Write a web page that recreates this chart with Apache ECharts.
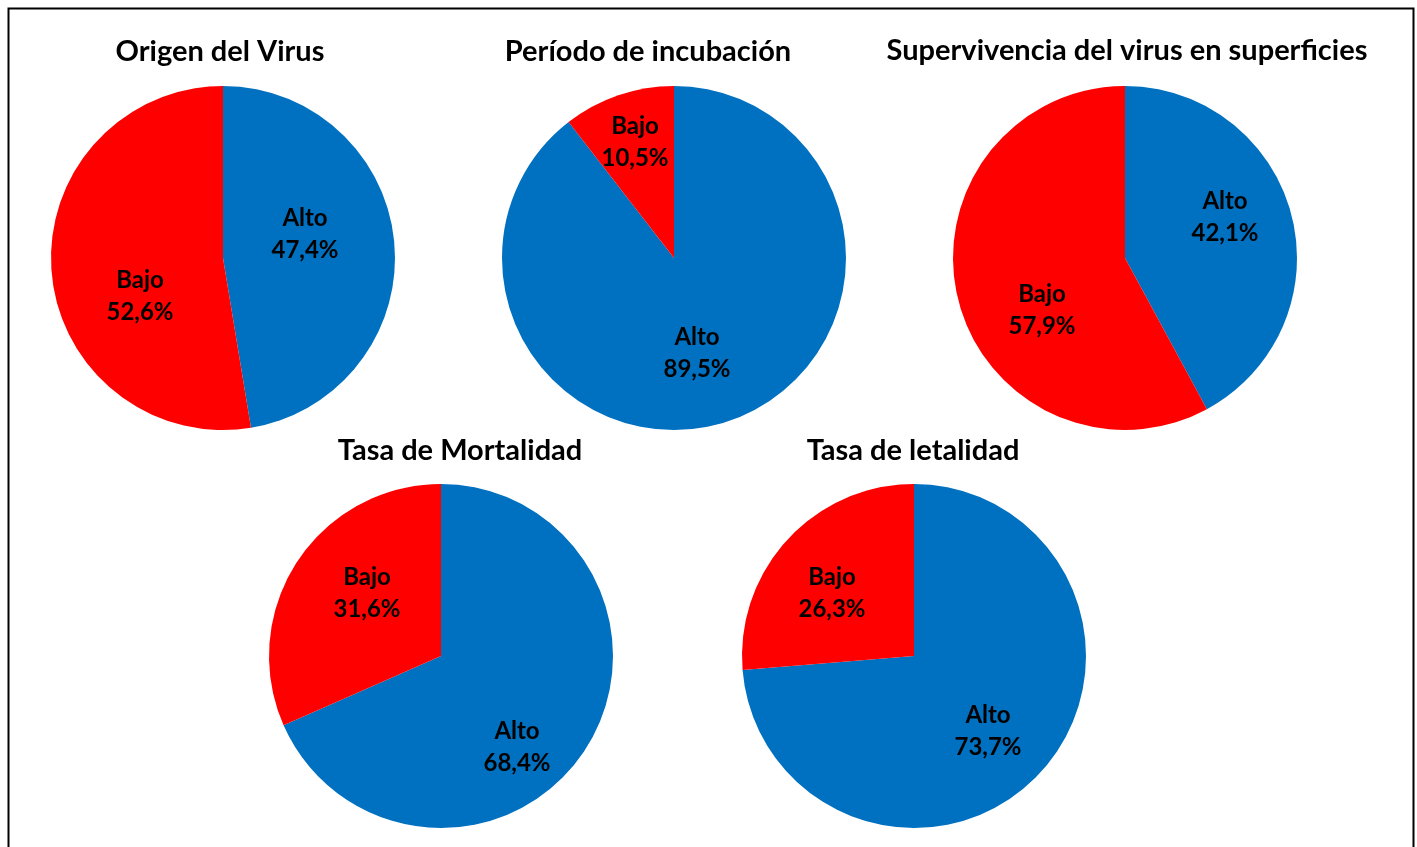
<!DOCTYPE html>
<html>
<head>
<meta charset="utf-8">
<script src="https://cdn.jsdelivr.net/npm/echarts@6/dist/echarts.min.js"></script>
<style>
  html, body { margin: 0; padding: 0; background: #fff; }
  #chart { width: 1417px; height: 847px; }
</style>
</head>
<body>
<div id="chart"></div>
<script>
// datos de cada gráfico circular (porcentajes)
const titles = [
  "Origen del Virus",
  "Período de incubación",
  "Supervivencia del virus en superficies",
  "Tasa de Mortalidad",
  "Tasa de letalidad"
];
const categories = ["Alto", "Bajo"];
const altoValues = [47.4, 89.5, 42.1, 68.4, 73.7];
const bajoValues = [52.6, 10.5, 57.9, 31.6, 26.3];
const colors = ["#0070C0", "#FF0000"];

// layout
const centers = [[223, 258], [674, 258], [1125, 258], [441, 656], [914, 656]];
const titlePos = [[215, 47], [643, 47], [1122, 46], [455, 446], [908, 446]];
// desplazamiento de las etiquetas respecto al centro (como en Excel) [Alto, Bajo]
const labelOffsets = [
  [[82, -24], [-83, 38]],
  [[23, 95], [-39, -116]],
  [[100, -41], [-83, 52]],
  [[76, 91], [-74, -63]],
  [[74, 75], [-82, -63]]
];
const R = 172;
const FONT = "Lato, 'Open Sans', sans-serif";

const chart = echarts.init(document.getElementById("chart"));

const fmt = (v) => v.toFixed(1).replace(".", ",") + "%";

const series = titles.map((t, i) => {
  const vals = [altoValues[i], bajoValues[i]];
  return {
    type: "pie",
    center: centers[i],
    radius: [0, R],
    startAngle: 90,
    clockwise: true,
    silent: true,
    animation: false,
    itemStyle: { borderWidth: 0 },
    data: categories.map((c, j) => ({
      name: c,
      value: vals[j],
      itemStyle: { color: colors[j] }
    })),
    label: {
      show: true,
      position: "inside",
      formatter: (p) => p.name + "\n" + fmt(p.value),
      color: "#000",
      fontFamily: FONT,
      fontWeight: "bold",
      fontSize: 24,
      lineHeight: 32,
      align: "center"
    },
    labelLayout: (p) => {
      const off = labelOffsets[i][p.dataIndex];
      return {
        x: centers[i][0] + off[0],
        y: centers[i][1] + off[1],
        align: "center",
        verticalAlign: "middle"
      };
    },
    labelLine: { show: false }
  };
});

const option = {
  backgroundColor: "#fff",
  animation: false,
  title: titles.map((t, i) => ({
    text: t,
    left: titlePos[i][0],
    top: titlePos[i][1],
    textAlign: "center",
    textVerticalAlign: "middle",
    textStyle: {
      fontFamily: FONT,
      fontWeight: "bold",
      fontSize: 29,
      color: "#000"
    }
  })),
  graphic: [{
    type: "rect",
    shape: { x: 8.5, y: 8.5, width: 1405, height: 900 },
    style: { fill: null, stroke: "#000", lineWidth: 2 },
    silent: true
  }],
  series: series
};

chart.setOption(option);
</script>
</body>
</html>
